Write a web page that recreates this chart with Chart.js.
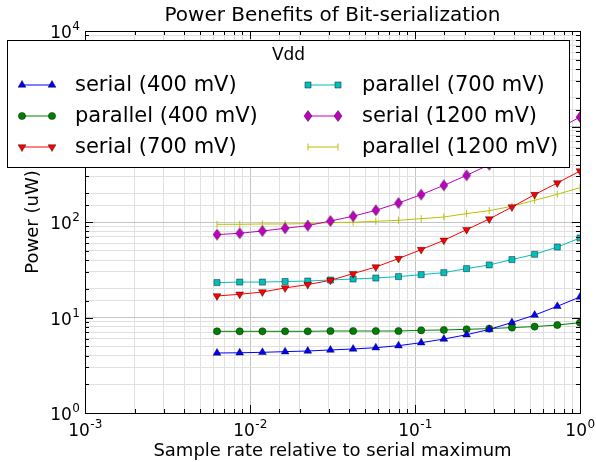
<!DOCTYPE html>
<html>
<head>
    <title>Power Benefits of Bit-serialization</title>
    <script src="https://cdn.jsdelivr.net/npm/chart.js"></script>
    <style>
        body { margin: 0; background: #fff; }
    </style>
</head>
<body>
<canvas id="powerChart" width="596" height="462"></canvas>
<script>
// sample rate relative to serial maximum (x axis)
const sampleRate = [0.00631, 0.00866, 0.01189, 0.01632, 0.02239, 0.03073, 0.04217, 0.05788, 0.07943,
                    0.1090, 0.1496, 0.2054, 0.2818, 0.3868, 0.5309, 0.7286, 1.0];

// power in uW for each configuration
const serial400    = [4.25, 4.27, 4.32, 4.39, 4.46, 4.57, 4.68, 4.83, 5.07, 5.45, 5.95, 6.6, 7.5, 8.87, 10.6, 13.1, 16.4];
const parallel400  = [7.17, 7.17, 7.17, 7.17, 7.17, 7.22, 7.22, 7.22, 7.22, 7.34, 7.40, 7.52, 7.65, 7.84, 8.03, 8.34, 8.83];
const serial700    = [16.8, 17.5, 18.5, 20.4, 22.1, 24.5, 28.8, 33.8, 41.4, 51.4, 64.3, 83.2, 107.5, 143.5, 193.6, 256, 342];
const parallel700  = [23.2, 23.5, 23.5, 23.8, 24.1, 24.7, 25.3, 25.9, 26.8, 28.1, 29.5, 32.5, 35.5, 40.4, 45.9, 54.7, 68.0];
const serial1200   = [73.8, 76.2, 80.5, 85.9, 91.6, 102.5, 114.8, 132.7, 158, 193.6, 242, 308, 398, 525, 692, 933, 1257];
const parallel1200 = [94.6, 94.6, 95.3, 95.3, 96.2, 98.6, 99.3, 101.7, 104.2, 108.5, 112.8, 122.4, 131.6, 146, 168.6, 195, 229];

const seriesLabels = ['serial (400 mV)', 'parallel (400 mV)', 'serial (700 mV)',
                      'parallel (700 mV)', 'serial (1200 mV)', 'parallel (1200 mV)'];

// tick labels (powers of ten)
const xTickExps = [-3, -2, -1, 0];
const yTickExps = [0, 1, 2, 3, 4];

const FONT = "'DejaVu Sans', sans-serif";

function isPow10(v) {
    const l = Math.log10(v);
    return Math.abs(l - Math.round(l)) < 1e-6;
}

// matplotlib 'd' marker (thin diamond)
function thinDiamond(fill) {
    const c = document.createElement('canvas');
    c.width = 12; c.height = 14;
    const g = c.getContext('2d');
    g.beginPath();
    g.moveTo(6, 1.5); g.lineTo(10, 7); g.lineTo(6, 12.5); g.lineTo(2, 7);
    g.closePath();
    g.fillStyle = fill;
    g.fill();
    g.strokeStyle = 'rgba(0,0,0,0.6)';
    g.lineWidth = 0.7;
    g.stroke();
    return c;
}

function toPoints(ys) {
    return ys.map((v, i) => ({ x: sampleRate[i], y: v }));
}

function makeSet(label, ys, color, style, extra) {
    return Object.assign({
        label: label,
        data: toPoints(ys),
        borderColor: color,
        backgroundColor: color,
        borderWidth: 1,
        pointStyle: style,
        pointRadius: 4,
        pointBackgroundColor: color,
        pointBorderColor: 'rgba(0,0,0,0.6)',
        pointBorderWidth: 0.7,
        tension: 0
    }, extra || {});
}

const datasets = [
    makeSet(seriesLabels[0], serial400, '#0000ff', 'triangle', { pointRadius: 4.5 }),
    makeSet(seriesLabels[1], parallel400, '#008000', 'circle', { pointRadius: 3.6 }),
    makeSet(seriesLabels[2], serial700, '#ff0000', 'triangle', { pointRadius: 4.5, pointRotation: 180 }),
    makeSet(seriesLabels[3], parallel700, '#00bfbf', 'rect', { pointRadius: 4.3 }),
    makeSet(seriesLabels[4], serial1200, '#bf00bf', thinDiamond('#bf00bf')),
    makeSet(seriesLabels[5], parallel1200, '#bfbf00', 'line',
            { pointRadius: 3.5, pointRotation: 90, pointBorderColor: '#bfbf00', pointBorderWidth: 1 })
];

const gridColor = c => isPow10(c.tick.value) ? '#c4c4c4' : '#e0e0e0';

// inner ticks, frame, power-of-ten labels and the boxed legend
const mplDecor = {
    id: 'mplDecor',
    afterDraw(chart) {
        const { ctx, chartArea: a, scales: { x, y } } = chart;
        ctx.save();
        ctx.strokeStyle = '#000';
        ctx.lineWidth = 1;
        ctx.beginPath();
        x.ticks.forEach(t => {
            const px = Math.round(x.getPixelForValue(t.value)) + 0.5;
            const len = isPow10(t.value) ? 8 : 4;
            ctx.moveTo(px, a.bottom); ctx.lineTo(px, a.bottom - len);
            ctx.moveTo(px, a.top); ctx.lineTo(px, a.top + len);
        });
        y.ticks.forEach(t => {
            const py = Math.round(y.getPixelForValue(t.value)) + 0.5;
            const len = isPow10(t.value) ? 8 : 4;
            ctx.moveTo(a.left, py); ctx.lineTo(a.left + len, py);
            ctx.moveTo(a.right, py); ctx.lineTo(a.right - len, py);
        });
        ctx.stroke();
        ctx.strokeRect(Math.round(a.left) + 0.5, Math.round(a.top) + 0.5,
                       Math.round(a.right - a.left), Math.round(a.bottom - a.top));

        // tick labels 10^n
        ctx.fillStyle = '#000';
        ctx.textBaseline = 'alphabetic';
        const baseFont = '17px ' + FONT, expFont = '12px ' + FONT;
        xTickExps.forEach(e => {
            const px = x.getPixelForValue(Math.pow(10, e));
            const es = e < 0 ? '-' + (-e) : String(e);
            ctx.font = baseFont;
            const w1 = ctx.measureText('10').width;
            ctx.font = expFont;
            const w2 = ctx.measureText(es).width;
            const start = px - (w1 + w2) / 2;
            ctx.textAlign = 'left';
            ctx.font = baseFont;
            ctx.fillText('10', start, a.bottom + 23);
            ctx.font = expFont;
            ctx.fillText(es, start + w1 + 0.5, a.bottom + 15);
        });
        yTickExps.forEach(e => {
            const py = y.getPixelForValue(Math.pow(10, e));
            const es = String(e);
            ctx.font = expFont;
            const w2 = ctx.measureText(es).width;
            ctx.textAlign = 'right';
            ctx.fillText(es, a.left - 5, py - 1);
            ctx.font = baseFont;
            ctx.fillText('10', a.left - 5 - w2 - 0.5, py + 7);
        });

        // legend box
        const box = { left: 7.5, top: 40.5, right: 569.5, bottom: 167.5 };
        ctx.fillStyle = '#fff';
        ctx.fillRect(box.left, box.top, box.right - box.left, box.bottom - box.top);
        ctx.strokeStyle = '#000';
        ctx.lineWidth = 1;
        ctx.strokeRect(box.left, box.top, box.right - box.left, box.bottom - box.top);

        ctx.fillStyle = '#000';
        ctx.font = '17px ' + FONT;
        ctx.textAlign = 'center';
        ctx.textBaseline = 'middle';
        ctx.fillText('Vdd', (box.left + box.right) / 2, 56);

        const colX = [22, 308], textX = [75, 362], rowY = [85, 116, 147];
        chart.data.datasets.forEach((ds, i) => {
            const col = Math.floor(i / 3), row = i % 3;
            const x0 = colX[col], x1 = x0 + 30, yy = rowY[row];
            ctx.strokeStyle = ds.borderColor;
            ctx.lineWidth = 1;
            ctx.beginPath();
            ctx.moveTo(x0, yy); ctx.lineTo(x1, yy);
            ctx.stroke();
            [x0, x1].forEach(mx => {
                ctx.fillStyle = ds.pointBackgroundColor;
                ctx.strokeStyle = ds.pointBorderColor;
                ctx.lineWidth = ds.pointBorderWidth;
                Chart.helpers.drawPoint(ctx, {
                    pointStyle: ds.pointStyle,
                    radius: ds.pointRadius,
                    rotation: ds.pointRotation || 0,
                    borderWidth: ds.pointBorderWidth
                }, mx, yy);
            });
            ctx.fillStyle = '#000';
            ctx.font = '21px ' + FONT;
            ctx.textAlign = 'left';
            ctx.textBaseline = 'middle';
            ctx.fillText(ds.label, textX[col], yy + 1);
        });
        ctx.restore();
    }
};

new Chart(document.getElementById('powerChart').getContext('2d'), {
    type: 'line',
    data: { datasets: datasets },
    options: {
        responsive: false,
        devicePixelRatio: 1,
        animation: false,
        layout: { padding: { left: 0, right: 16, top: 0, bottom: 0 } },
        plugins: {
            legend: { display: false },
            tooltip: { enabled: false },
            title: {
                display: true,
                text: 'Power Benefits of Bit-serialization',
                fullSize: false,
                color: '#000',
                font: { family: FONT, size: 20, weight: 'normal' },
                padding: { top: 4, bottom: 3 }
            }
        },
        scales: {
            x: {
                type: 'logarithmic',
                min: 0.001,
                max: 1,
                afterFit: s => { s.height = 49; },
                ticks: { display: false },
                grid: { color: gridColor, drawTicks: false },
                border: { display: true, color: '#000' },
                title: {
                    display: true,
                    text: 'Sample rate relative to serial maximum',
                    color: '#000',
                    font: { family: FONT, size: 18 },
                    padding: { top: 0, bottom: 0 }
                }
            },
            y: {
                type: 'logarithmic',
                min: 1,
                max: 10000,
                afterFit: s => { s.width = 85; },
                ticks: { display: false },
                grid: { color: gridColor, drawTicks: false },
                border: { display: true, color: '#000' },
                title: {
                    display: true,
                    text: 'Power (uW)',
                    color: '#000',
                    font: { family: FONT, size: 18 },
                    padding: { top: 23, bottom: 0 }
                }
            }
        }
    },
    plugins: [mplDecor]
});
</script>
</body>
</html>
